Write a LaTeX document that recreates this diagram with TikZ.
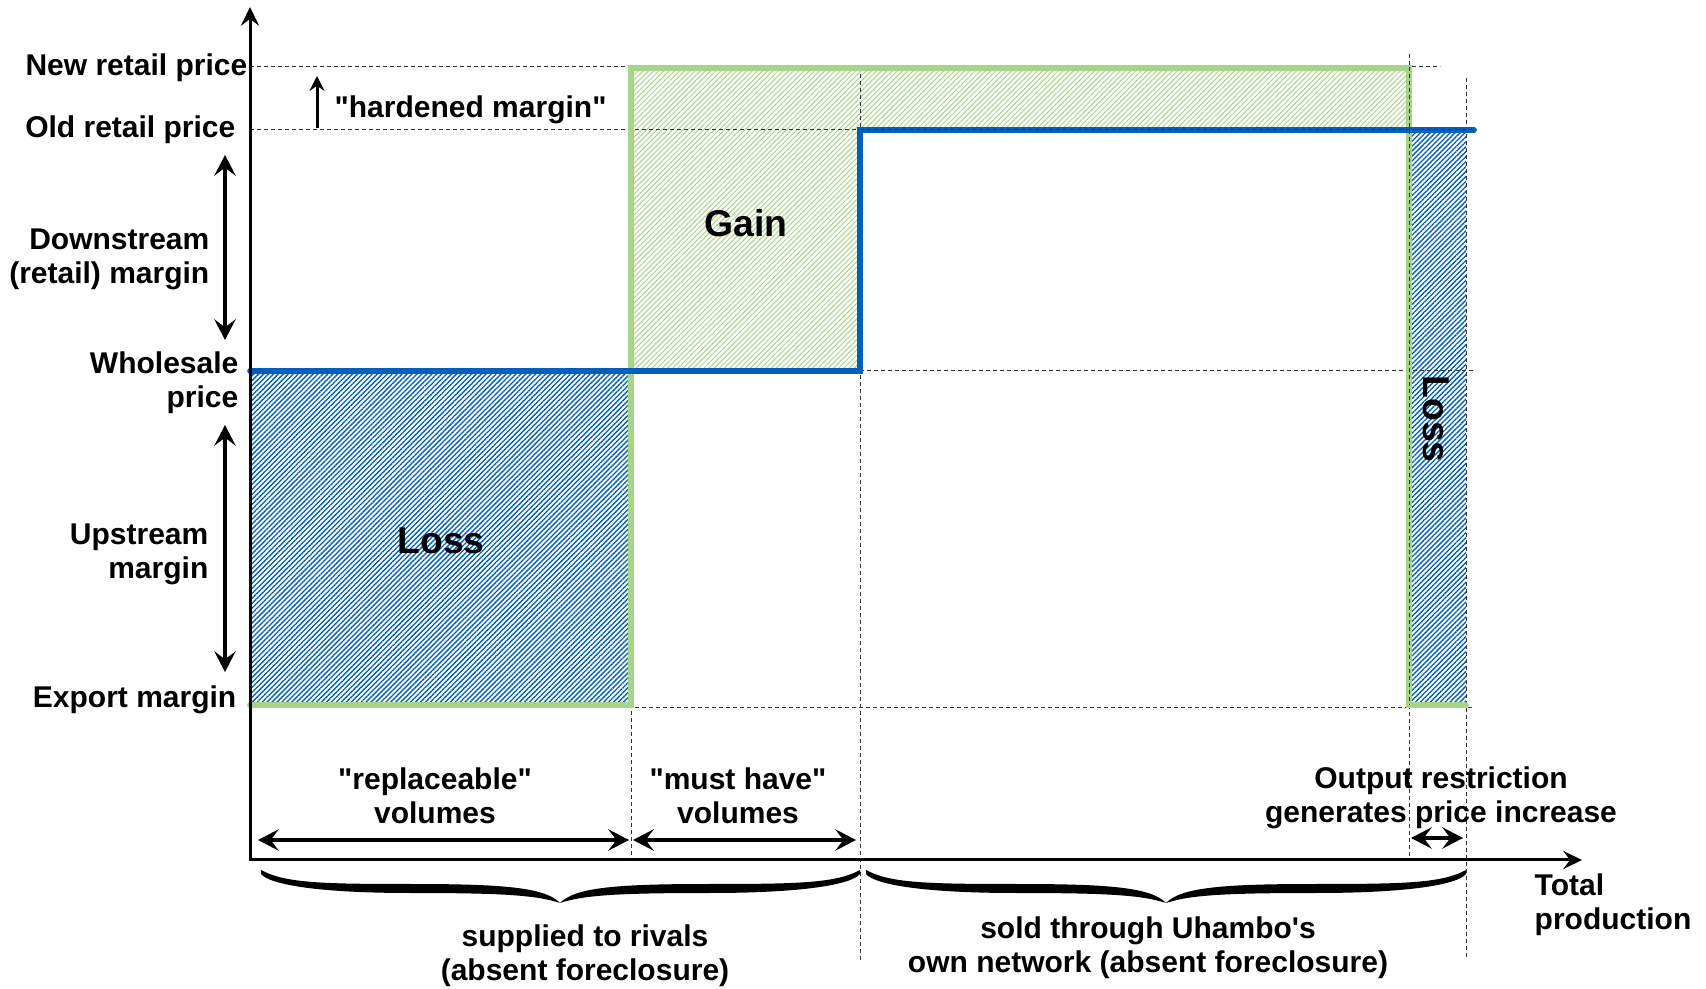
\documentclass[tikz,border=0pt]{standalone}
\usepackage{fontspec}
\newfontfamily\plainsans{Liberation Sans}
\usetikzlibrary{arrows.meta,patterns.meta}
\definecolor{lineblue}{RGB}{0,94,190}
\definecolor{linegreen}{RGB}{166,212,136}
\definecolor{guidegray}{RGB}{50,50,50}
\newcommand{\halfbrace}[3]{%
  \fill[shift={(#1,#3)}, xscale={(#2-#1)/100}]
    (0,0) .. controls (8,13) and (20,14) .. (50,14)
    .. controls (80,14) and (95,17) .. (100,33)
    .. controls (92,25) and (80,23) .. (50,23)
    .. controls (20,23) and (3,15) .. (0,4) -- cycle;}
\begin{document}
\begin{tikzpicture}[x=0.3pt,y=-0.3pt,
  lbl/.style={font=\plainsans\bfseries\fontsize{9}{10.2}\selectfont, inner sep=0pt},
  biglbl/.style={font=\plainsans\bfseries\fontsize{11.2}{13}\selectfont, inner sep=0pt},
  guide/.style={draw=guidegray, line width=0.3pt, dash pattern=on 1.2pt off 0.9pt},
  bluehatch/.style={pattern={Lines[angle=45,distance=1.05pt,line width=0.4pt]}, pattern color=lineblue},
  greenhatch/.style={pattern={Lines[angle=45,distance=1.1pt,line width=0.3pt]}, pattern color=linegreen},
  greenline/.style={draw=linegreen, line width=1.8pt, line cap=round},
  blueline/.style={draw=lineblue, line width=1.7pt, line cap=round},
  axisline/.style={draw=black, line width=0.9pt, {Stealth[length=5.6pt,width=5.4pt,inset=2pt]}-{Stealth[length=5.6pt,width=5.4pt,inset=2pt]}},
  dimarrow/.style={draw=black, line width=1.2pt, {Stealth[length=6.2pt,width=6.4pt,inset=2.4pt]}-{Stealth[length=6.2pt,width=6.4pt,inset=2.4pt]}},
  uparrow/.style={draw=black, line width=0.9pt, -{Stealth[length=4.5pt,width=4.5pt,inset=1.6pt]}},
]
\useasboundingbox (0,0) rectangle (1706,989);

% key coordinates
\coordinate (O) at (250,860);
\coordinate (ytop) at (250,7);
\coordinate (xend) at (1582,860);

% hatched areas
\fill[bluehatch] (250,371) rectangle (631,705);
\fill[bluehatch] (1409,130) rectangle (1466,705);
\fill[greenhatch] (631,67) -- (1409,67) -- (1409,130) -- (860,130) -- (860,371) -- (631,371) -- cycle;

% guide lines (under the curves)
\coordinate (hn0) at (250,67);   \coordinate (hn1) at (1440,67);
\coordinate (ho0) at (250,130);  \coordinate (ho1) at (860,130);
\coordinate (hw0) at (860,371);  \coordinate (hw1) at (1474,371);
\coordinate (he0) at (250,708);  \coordinate (he1) at (1474,708);
\coordinate (v1a) at (631,67);   \coordinate (v1b) at (631,860);
\coordinate (v2a) at (860,67);   \coordinate (v2b) at (860,960);
\coordinate (v3a) at (1409,54);  \coordinate (v3m) at (1409,67);
\coordinate (v3c) at (1409,705); \coordinate (v3b) at (1409,860);
\coordinate (v4a) at (1466,78);  \coordinate (v4b) at (1466,957);
\draw[guide] (hn0) -- (hn1);
\draw[guide] (ho0) -- (ho1);
\draw[guide] (hw0) -- (hw1);
\draw[guide] (he0) -- (he1);
\draw[guide] (v1a) -- (v1b);
\draw[guide] (v2a) -- (v2b);
\draw[guide] (v3a) -- (v3b);
\draw[guide] (v4a) -- (v4b);

% price curves
\coordinate (g0) at (250,705);
\coordinate (g1) at (631,705);
\coordinate (g2) at (631,68);
\coordinate (g3) at (1409,68);
\coordinate (g4) at (1409,705);
\coordinate (g5) at (1466,705);
\draw[greenline] (g0) -- (g1) -- (g2) -- (g3) -- (g4) -- (g5);
\coordinate (b0) at (250,371);
\coordinate (b1) at (860,371);
\coordinate (b2) at (860,130);
\coordinate (b3) at (1474,130);
\draw[blueline] (b0) -- (b1) -- (b2) -- (b3);

% guide segments that show over the curves
\coordinate (ho2) at (1474,130);
\draw[guide] (ho1) -- (ho2);
\draw[guide] (v3m) -- (v3c);

% axes
\draw[axisline] (ytop) -- (O) -- (xend);

% dimension arrows
\coordinate (da0) at (225,155); \coordinate (da1) at (225,340);
\coordinate (ua0) at (225,425); \coordinate (ua1) at (225,672);
\coordinate (ra0) at (258,840); \coordinate (ra1) at (629,840);
\coordinate (ma0) at (633,840); \coordinate (ma1) at (856,840);
\coordinate (oa0) at (1411,838); \coordinate (oa1) at (1463,838);
\coordinate (ha0) at (317,128); \coordinate (ha1) at (317,76);
\draw[dimarrow] (da0) -- (da1);
\draw[dimarrow] (ua0) -- (ua1);
\draw[dimarrow] (ra0) -- (ra1);
\draw[dimarrow] (ma0) -- (ma1);
\draw[dimarrow] (oa0) -- (oa1);
\draw[uparrow] (ha0) -- (ha1);

% braces
\halfbrace{261}{560}{870}
\halfbrace{860}{560}{870}
\halfbrace{866}{1166}{870}
\halfbrace{1466}{1166}{870}

% labels on the price axis
\node[lbl, anchor=east] (newretail) at (248,68) {New retail price};
\node[lbl, anchor=east] (oldretail) at (236,130) {Old retail price};
\node[lbl, anchor=west] (hardened) at (334,110) {"hardened margin"};
\node[lbl, anchor=east, align=right] (downstream) at (210,259) {Downstream\\(retail) margin};
\node[lbl, anchor=east, align=right] (wholesale) at (239,383) {Wholesale\\price};
\node[lbl, anchor=east, align=right] (upstream) at (209,554) {Upstream\\margin};
\node[lbl, anchor=east] (export) at (237,700) {Export margin};

% area labels
\node[biglbl] (gain) at (746,223) {Gain};
\node[biglbl] (lossleft) at (441,541) {Loss};
\node[biglbl, rotate=-90] (lossright) at (1436,419) {Loss};

% labels on the quantity axis
\node[lbl, align=center] (replaceable) at (435,796) {"replaceable"\\volumes};
\node[lbl, align=center] (musthave) at (738,796) {"must have"\\volumes};
\node[lbl, align=center] (output) at (1441,798) {Output restriction\\generates price increase};
\node[lbl, anchor=west, align=left] (total) at (1534,905) {Total\\production};
\node[lbl, align=center] (rivals) at (585,956) {supplied to rivals\\(absent foreclosure)};
\node[lbl, align=center] (own) at (1148,948) {sold through Uhambo's\\own network (absent foreclosure)};
\end{tikzpicture}
\end{document}
